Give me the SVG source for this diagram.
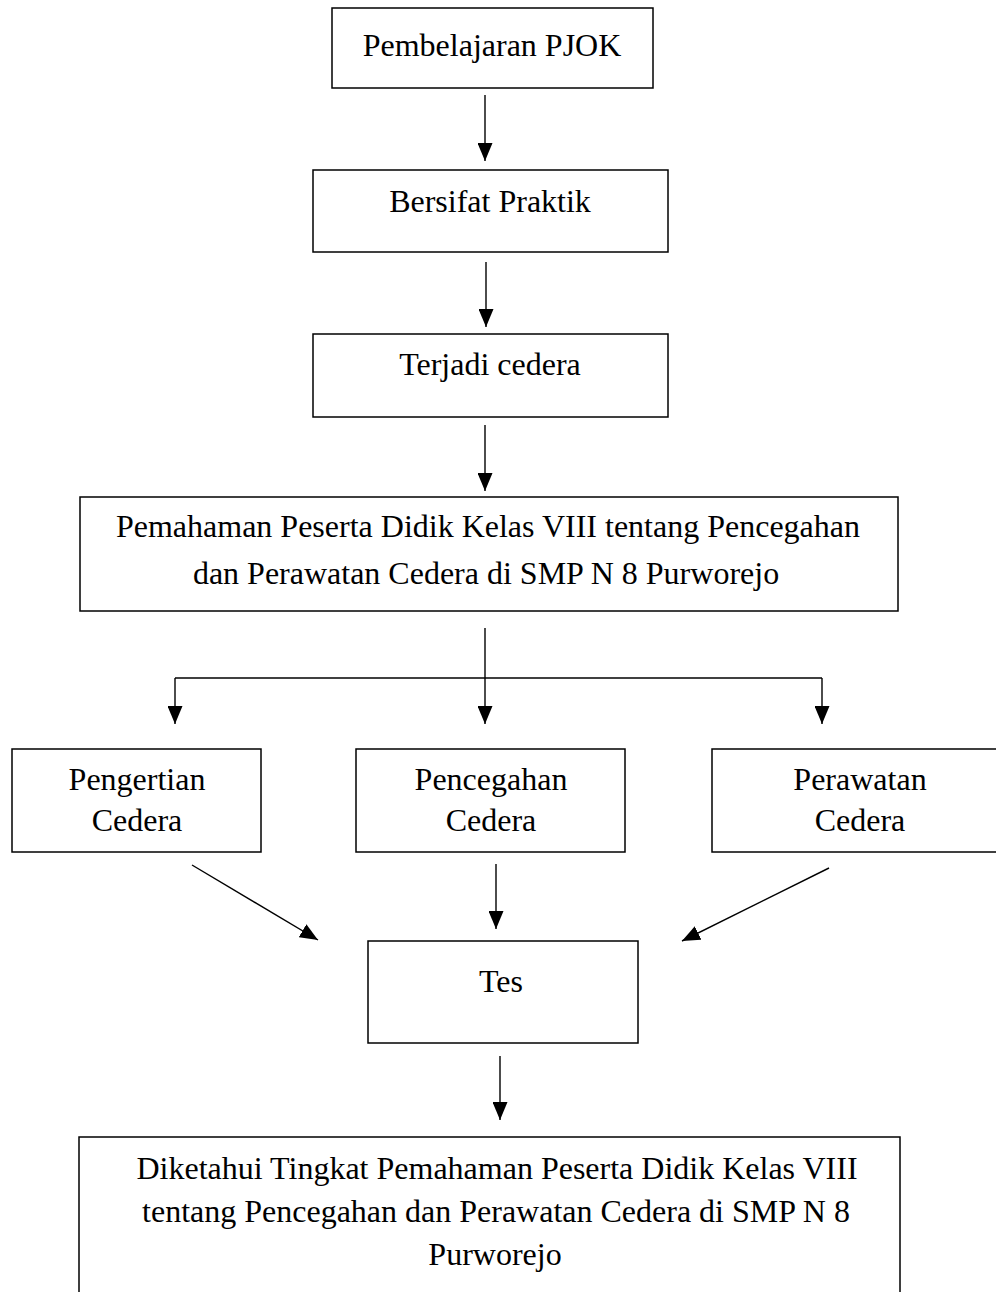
<svg xmlns="http://www.w3.org/2000/svg" width="996" height="1292" viewBox="0 0 996 1292">
<style>
.box{fill:#fff;stroke:#000;stroke-width:1.5}
.t{font-family:"Liberation Serif","Times New Roman",serif;font-size:32px;fill:#000;text-anchor:middle}
.c{fill:none;stroke:#000;stroke-width:1.4}
</style>
<defs>
<marker id="ah" markerUnits="userSpaceOnUse" markerWidth="18" markerHeight="15" refX="18" refY="7.5" orient="auto" viewBox="0 0 18 15">
<path d="M0,0 L18,7.5 L0,15 z" fill="#000"/>
</marker>
</defs>
<rect width="996" height="1292" fill="#fff"/>
<g id="n1"><rect class="box" x="332" y="8" width="321" height="80"/><text class="t" x="492" y="56">Pembelajaran PJOK</text></g>
<g id="n2"><rect class="box" x="313" y="170" width="355" height="82"/><text class="t" x="490" y="212">Bersifat Praktik</text></g>
<g id="n3"><rect class="box" x="313" y="334" width="355" height="83"/><text class="t" x="490" y="375">Terjadi cedera</text></g>
<g id="n4"><rect class="box" x="80" y="497" width="818" height="114"/><text class="t" x="488" y="537">Pemahaman Peserta Didik Kelas VIII tentang Pencegahan</text><text class="t" x="486" y="584">dan Perawatan Cedera di SMP N 8 Purworejo</text></g>
<g id="n5"><rect class="box" x="12" y="749" width="249" height="103"/><text class="t" x="137" y="790">Pengertian</text><text class="t" x="137" y="831">Cedera</text></g>
<g id="n6"><rect class="box" x="356" y="749" width="269" height="103"/><text class="t" x="491" y="790">Pencegahan</text><text class="t" x="491" y="831">Cedera</text></g>
<g id="n7"><rect class="box" x="712" y="749" width="290" height="103"/><text class="t" x="860" y="790">Perawatan</text><text class="t" x="860" y="831">Cedera</text></g>
<g id="n8"><rect class="box" x="368" y="941" width="270" height="102"/><text class="t" x="501" y="992">Tes</text></g>
<g id="n9"><rect class="box" x="79" y="1137" width="821" height="200"/><text class="t" x="497" y="1179">Diketahui Tingkat Pemahaman Peserta Didik Kelas VIII</text><text class="t" x="496" y="1222">tentang Pencegahan dan Perawatan Cedera di SMP N 8</text><text class="t" x="495" y="1265">Purworejo</text></g>
<g id="connectors">
<path class="c" d="M485,95 V161" marker-end="url(#ah)"/>
<path class="c" d="M486,262 V327" marker-end="url(#ah)"/>
<path class="c" d="M485,425 V491" marker-end="url(#ah)"/>
<path class="c" d="M485,628 V724" marker-end="url(#ah)"/>
<path class="c" d="M175,678 H822"/>
<path class="c" d="M175,678 V724" marker-end="url(#ah)"/>
<path class="c" d="M822,678 V724" marker-end="url(#ah)"/>
<path class="c" d="M192,865 L318,940" marker-end="url(#ah)"/>
<path class="c" d="M496,864 V929" marker-end="url(#ah)"/>
<path class="c" d="M829,868 L682,941" marker-end="url(#ah)"/>
<path class="c" d="M500,1056 V1120" marker-end="url(#ah)"/>
</g>
</svg>
